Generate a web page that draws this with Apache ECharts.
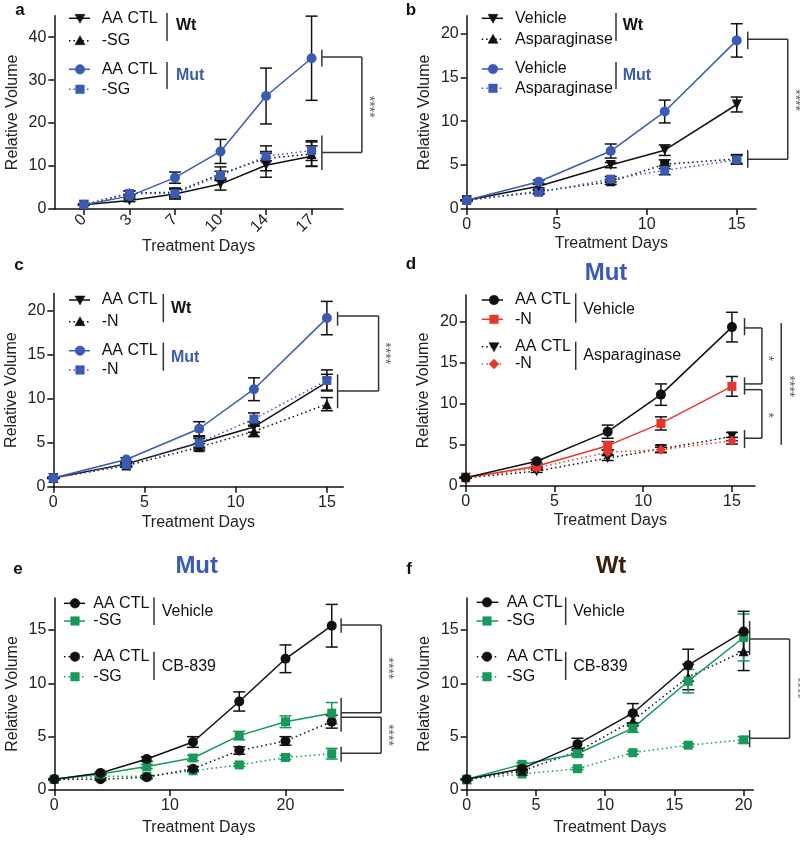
<!DOCTYPE html>
<html><head><meta charset="utf-8">
<script src="https://cdn.jsdelivr.net/npm/echarts@6/dist/echarts.min.js"></script>
<style>html,body{margin:0;padding:0;background:#fff}#c{width:800px;height:841px}</style>
</head><body><div id="c"></div>
<script>
// ================= DATA =================
// Panel a (days shown as evenly spaced ticks)
const aTickLabels = ['0','3','7','10','14','17'];
const aPos = [0,1,2,3,4,5];
const aWtCtl = [1.0, 2.0, 3.5, 5.8, 10.2, 12.3];
const aWtCtlErr = [0.1, 0.3, 1.2, 1.4, 2.8, 2.4];
const aWtSg = [1.0, 3.7, 3.9, 8.2, 11.8, 12.8];
const aWtSgErr = [0.1, 0.5, 1.0, 1.6, 2.9, 2.8];
const aMutCtl = [1.0, 3.0, 7.3, 13.4, 26.3, 35.1];
const aMutCtlErr = [0.1, 0.4, 1.3, 2.8, 6.5, 9.8];
const aMutSg = [1.0, 3.6, 3.6, 7.8, 12.3, 13.6];
const aMutSgErr = [0.1, 0.6, 1.0, 1.0, 1.1, 2.3];
const aLegend = ['AA CTL', '-SG', 'AA CTL', '-SG'];
const aGroups = ['Wt', 'Mut'];

// Panel b
const bDays = [0, 4, 8, 11, 15];
const bWtVeh = [1.0, 2.6, 5.0, 6.7, 11.9];
const bWtVehErr = [0.05, 0.2, 0.3, 0.6, 0.85];
const bWtAsp = [1.0, 2.0, 3.1, 5.1, 5.7];
const bWtAspErr = [0.05, 0.2, 0.3, 0.5, 0.5];
const bMutVeh = [1.0, 3.1, 6.6, 11.1, 19.2];
const bMutVehErr = [0.05, 0.2, 0.8, 1.3, 1.9];
const bMutAsp = [1.0, 1.9, 3.4, 4.4, 5.6];
const bMutAspErr = [0.05, 0.2, 0.3, 0.5, 0.5];
const bLegend = ['Vehicle', 'Asparaginase', 'Vehicle', 'Asparaginase'];
const bGroups = ['Wt', 'Mut'];

// Panel c
const cDays = [0, 4, 8, 11, 15];
const cWtCtl = [1.0, 2.6, 5.0, 6.8, 11.9];
const cWtCtlErr = [0.05, 0.2, 0.7, 0.6, 0.9];
const cWtN = [1.0, 2.4, 4.5, 6.3, 9.4];
const cWtNErr = [0.05, 0.2, 0.4, 0.6, 0.75];
const cMutCtl = [1.0, 3.1, 6.6, 11.1, 19.2];
const cMutCtlErr = [0.05, 0.2, 0.8, 1.3, 1.9];
const cMutN = [1.0, 2.5, 5.0, 7.7, 12.1];
const cMutNErr = [0.05, 0.2, 0.5, 0.7, 1.2];
const cLegend = ['AA CTL', '-N', 'AA CTL', '-N'];
const cGroups = ['Wt', 'Mut'];

// Panel d (Mut)
const dDays = [0, 4, 8, 11, 15];
const dVehCtl = [1.0, 3.0, 6.6, 11.1, 19.3];
const dVehCtlErr = [0.05, 0.2, 0.8, 1.3, 1.8];
const dVehN = [1.0, 2.4, 4.9, 7.6, 12.1];
const dVehNErr = [0.05, 0.2, 0.5, 0.8, 1.2];
const dAspCtl = [1.0, 1.8, 3.4, 4.5, 6.0];
const dAspCtlErr = [0.05, 0.15, 0.3, 0.45, 0.5];
const dAspN = [1.0, 2.2, 4.1, 4.4, 5.5];
const dAspNErr = [0.05, 0.15, 0.3, 0.3, 0.4];
const dLegend = ['AA CTL', '-N', 'AA CTL', '-N'];
const dGroups = ['Vehicle', 'Asparaginase'];

// Panel e (Mut)
const eDays = [0, 4, 8, 12, 16, 20, 24];
const eVehCtl = [1.0, 1.6, 2.9, 4.5, 8.3, 12.3, 15.4];
const eVehCtlErr = [0.05, 0.1, 0.2, 0.5, 0.9, 1.3, 2.0];
const eVehSg = [1.0, 1.5, 2.2, 3.0, 5.1, 6.4, 7.2];
const eVehSgErr = [0.05, 0.1, 0.2, 0.25, 0.4, 0.55, 1.0];
const eCbCtl = [1.0, 1.0, 1.2, 2.0, 3.7, 4.6, 6.4];
const eCbCtlErr = [0.05, 0.1, 0.15, 0.2, 0.35, 0.4, 0.6];
const eCbSg = [1.0, 1.3, 1.3, 1.8, 2.35, 3.05, 3.4];
const eCbSgErr = [0.05, 0.1, 0.1, 0.1, 0.15, 0.2, 0.5];
const eLegend = ['AA CTL', '-SG', 'AA CTL', '-SG'];
const eGroups = ['Vehicle', 'CB-839'];

// Panel f (Wt)
const fDays = [0, 4, 8, 12, 16, 20];
const fVehCtl = [1.0, 2.0, 4.3, 7.2, 11.7, 14.85];
const fVehCtlErr = [0.05, 0.2, 0.55, 0.9, 1.5, 1.9];
const fVehSg = [1.0, 2.4, 3.4, 5.8, 10.2, 14.3];
const fVehSgErr = [0.05, 0.15, 0.3, 0.4, 1.1, 2.2];
const fCbCtl = [1.0, 1.8, 3.6, 6.5, 10.6, 13.0];
const fCbCtlErr = [0.05, 0.15, 0.3, 0.5, 1.2, 1.8];
const fCbSg = [1.0, 1.5, 2.0, 3.5, 4.2, 4.7];
const fCbSgErr = [0.05, 0.1, 0.1, 0.15, 0.15, 0.3];
const fLegend = ['AA CTL', '-SG', 'AA CTL', '-SG'];
const fGroups = ['Vehicle', 'CB-839'];

const panelLetters = ['a','b','c','d','e','f'];
const xTitle = 'Treatment Days';
const yTitle = 'Relative Volume';

// ================= STYLE / LAYOUT =================
const FONT = '"Liberation Sans", Arial, Helvetica, sans-serif';
const BLUE = '#3a5bb4', RED = '#e8362c', GREEN = '#169a5a', BLACK = '#111111', BROWN = '#3a1e0f', GREY = '#333333';
const DOT = [1.5, 3];

function S(xs, ys, err, color, symbol, opts) {
  return Object.assign({xs, ys, err, color, errColor: color, symbol, rot: 0, dotted: false}, opts || {});
}

const panels = [
  { grid: {left: 54.3, top: 15.7, width: 288.7, height: 193.3},
    x: {min: -0.65, max: 5.69, ticks: aPos, labels: aTickLabels, rotate: 45}, y: {max: 45, ticks: [0,10,20,30,40]}, nameGapX: 27,
    series: [
      S(aPos, aWtCtl, aWtCtlErr, BLACK, 'triangle', {rot: 180}),
      S(aPos, aWtSg, aWtSgErr, BLACK, 'triangle', {dotted: true}),
      S(aPos, aMutSg, aMutSgErr, BLUE, 'rect', {dotted: true, errColor: BLACK}),
      S(aPos, aMutCtl, aMutCtlErr, BLUE, 'circle', {errColor: BLACK})
    ],
    legend: {seg: [69, 90], mx: 80, tx: 101.7, ys: [18.3, 40.7, 69.3, 89.3], labels: aLegend,
      sym: [['tridown', BLACK, false], ['triup', BLACK, true], ['circle', BLUE, false], ['rect', BLUE, true]],
      gx: 167, glx: 176, groups: [[13, 41, 25.7, BLACK, true], [62, 89, 76, BLUE, true]], gLabels: aGroups},
    sig: {x: 5, tickDx: 10.3, ticks: [[37.1, 33.2], [17.1, 9.1]], arms: [[35.4, 50.3], [13.15, 50.3]],
      bars: [[35.4, 13.15, 50.3]], stars: [['****', 23.8, 57]]},
    letter: [20, 10]
  },
  { grid: {left: 466.7, top: 15.8, width: 289.3, height: 193.2},
    x: {min: 0, max: 16.07, ticks: [0,5,10,15]}, y: {max: 22, ticks: [0,5,10,15,20]}, nameGapX: 27,
    series: [
      S(bDays, bWtAsp, bWtAspErr, BLACK, 'rect', {dotted: true}),
      S(bDays, bMutAsp, bMutAspErr, BLUE, 'rect', {dotted: true, errColor: BLACK}),
      S(bDays, bWtVeh, bWtVehErr, BLACK, 'triangle', {rot: 180}),
      S(bDays, bMutVeh, bMutVehErr, BLUE, 'circle', {errColor: BLACK})
    ],
    legend: {seg: [481.7, 503], mx: 493, tx: 515, ys: [18.3, 39.3, 69, 88.3], labels: bLegend,
      sym: [['tridown', BLACK, false], ['triup', BLACK, true], ['circle', BLUE, false], ['rect', BLUE, true]],
      gx: 616, glx: 622.7, groups: [[13, 41, 25.7, BLACK, true], [62, 89, 76, BLUE, true]], gLabels: bGroups},
    sig: {x: 15, tickDx: 11, ticks: [[20.2, 18.2], [6.7, 4.7]], arms: [[19.33, 51], [5.66, 51]],
      bars: [[19.33, 5.66, 51]], stars: [['****', 12.4, 58.6]]},
    letter: [411, 10]
  },
  { grid: {left: 53.3, top: 293.5, width: 290, height: 193.2},
    x: {min: 0, max: 15.9, ticks: [0,5,10,15]}, y: {max: 22, ticks: [0,5,10,15,20]}, nameGapX: 28,
    series: [
      S(cDays, cWtN, cWtNErr, BLACK, 'triangle', {dotted: true}),
      S(cDays, cWtCtl, cWtCtlErr, BLACK, 'triangle', {rot: 180}),
      S(cDays, cMutN, cMutNErr, BLUE, 'rect', {dotted: true, errColor: BLACK}),
      S(cDays, cMutCtl, cMutCtlErr, BLUE, 'circle', {errColor: BLACK})
    ],
    legend: {seg: [69, 90], mx: 80, tx: 101.7, ys: [300, 321.7, 350.7, 370], labels: cLegend,
      sym: [['tridown', BLACK, false], ['triup', BLACK, true], ['circle', BLUE, false], ['rect', BLUE, true]],
      gx: 163.3, glx: 171, groups: [[294, 322.3, 309, BLACK, true], [342.7, 370.7, 357.3, BLUE, true]], gLabels: cGroups},
    sig: {x: 15, tickDx: 10.7, ticks: [[19.93, 18.34], [12.8, 8.93]], arms: [[19.44, 51.7], [10.9, 51.7]],
      bars: [[19.44, 10.9, 51.7]], stars: [['****', 15.2, 57.8]]},
    letter: [19, 265]
  },
  { grid: {left: 465.7, top: 295, width: 289.3, height: 191},
    x: {min: 0, max: 16.3, ticks: [0,5,10,15]}, y: {max: 23.2, ticks: [0,5,10,15,20]}, nameGapX: 27,
    series: [
      S(dDays, dAspCtl, dAspCtlErr, BLACK, 'triangle', {rot: 180, dotted: true}),
      S(dDays, dAspN, dAspNErr, RED, 'diamond', {dotted: true, errColor: BLACK}),
      S(dDays, dVehN, dVehNErr, RED, 'rect', {errColor: BLACK}),
      S(dDays, dVehCtl, dVehCtlErr, BLACK, 'circle')
    ],
    legend: {seg: [481.7, 503], mx: 494, tx: 515, ys: [300, 319.3, 346.7, 364], labels: dLegend,
      sym: [['circle', BLACK, false], ['rect', RED, false], ['tridown', BLACK, true], ['diamond', RED, true]],
      gx: 575.7, glx: 583.3, groups: [[293.3, 322.7, 310, BLACK, false], [341.7, 370, 356, BLACK, false]], gLabels: dGroups},
    sig: {x: 15, tickDx: 12.6, ticks: [[20.4, 18.3], [13.2, 11.1], [6.8, 4.6]],
      arms: [[19.2, 30], [12.4, 30], [11.7, 30], [5.8, 30]],
      bars: [[19.2, 12.4, 30], [11.7, 5.8, 30], [19.8, 5.0, 49.3]],
      stars: [['*', 15.5, 35.5], ['*', 8.6, 35.5], ['****', 12.1, 56.5]]},
    title: ['Mut', 606, 273, BLUE],
    letter: [411, 264]
  },
  { grid: {left: 54.3, top: 598, width: 289, height: 192},
    x: {min: 0, max: 25, ticks: [0,10,20]}, y: {max: 18, ticks: [0,5,10,15]}, nameGapX: 30,
    series: [
      S(eDays, eCbSg, eCbSgErr, GREEN, 'rect', {dotted: true}),
      S(eDays, eCbCtl, eCbCtlErr, BLACK, 'circle', {dotted: true}),
      S(eDays, eVehSg, eVehSgErr, GREEN, 'rect'),
      S(eDays, eVehCtl, eVehCtlErr, BLACK, 'circle')
    ],
    legend: {seg: [64, 85], mx: 75, tx: 93.3, ys: [603.3, 621, 656.7, 676.7], labels: eLegend,
      sym: [['circle', BLACK, false], ['rect', GREEN, false], ['circle', BLACK, true], ['rect', GREEN, true]],
      gx: 154, glx: 161.7, groups: [[597.3, 625, 611.7, BLACK, false], [651.7, 680, 666.7, BLACK, false]], gLabels: eGroups},
    sig: {x: 24, tickDx: 9.4, ticks: [[16.1, 14.74], [8.65, 5.46], [4.06, 2.65]],
      arms: [[15.46, 49.4], [7.24, 49.4], [6.81, 49.4], [3.44, 49.4]],
      bars: [[15.46, 7.24, 49.4], [6.81, 3.44, 49.4]], stars: [['****', 11.4, 55.8], ['****', 5.15, 55.8]]},
    title: ['Mut', 196.7, 566.7, BLUE],
    letter: [18, 569]
  },
  { grid: {left: 466.7, top: 598, width: 286.6, height: 192},
    x: {min: 0, max: 20.7, ticks: [0,5,10,15,20]}, y: {max: 18, ticks: [0,5,10,15]}, nameGapX: 30,
    series: [
      S(fDays, fCbSg, fCbSgErr, GREEN, 'rect', {dotted: true}),
      S(fDays, fCbCtl, fCbCtlErr, BLACK, 'triangle', {dotted: true}),
      S(fDays, fVehSg, fVehSgErr, GREEN, 'rect'),
      S(fDays, fVehCtl, fVehCtlErr, BLACK, 'circle')
    ],
    legend: {seg: [476.7, 498.3], mx: 487, tx: 506.7, ys: [602.3, 621, 656.7, 676.7], labels: fLegend,
      sym: [['circle', BLACK, false], ['rect', GREEN, false], ['circle', BLACK, true], ['rect', GREEN, true]],
      gx: 565.7, glx: 573.3, groups: [[597.3, 625, 611.7, BLACK, false], [651.7, 680, 666.7, BLACK, false]], gLabels: fGroups},
    sig: {x: 20, tickDx: 6, ticks: [[15.84, 12.65], [5.62, 4.0]], arms: [[14.15, 46], [4.85, 46]],
      bars: [[14.15, 4.85, 46]], stars: [['****', 9.56, 53.6]]},
    title: ['Wt', 611, 566.7, BROWN],
    letter: [409, 569]
  }
];

// ================= BUILD =================
const grids = [], xAxes = [], yAxes = [], series = [], graphics = [];
const axisLineStyle = {color: BLACK, width: 1.5};

function errRender(color) {
  return function (params, api) {
    const x = api.value(0), lo = api.value(1), hi = api.value(2);
    const a = api.coord([x, lo]), b = api.coord([x, hi]);
    const w = 6, st = {stroke: color, lineWidth: 1.5};
    return {type: 'group', children: [
      {type: 'line', shape: {x1: a[0], y1: a[1], x2: b[0], y2: b[1]}, style: st},
      {type: 'line', shape: {x1: a[0] - w, y1: a[1], x2: a[0] + w, y2: a[1]}, style: st},
      {type: 'line', shape: {x1: b[0] - w, y1: b[1], x2: b[0] + w, y2: b[1]}, style: st}
    ]};
  };
}

function sigRender(sig) {
  return function (params, api) {
    const px = api.coord([sig.x, 0])[0];
    const Y = v => api.coord([sig.x, v])[1];
    const st = {stroke: GREY, lineWidth: 1.5};
    const ch = [];
    const tx = px + sig.tickDx;
    sig.ticks.forEach(t => ch.push({type: 'line', shape: {x1: tx, y1: Y(t[0]), x2: tx, y2: Y(t[1])}, style: st}));
    sig.arms.forEach(a => ch.push({type: 'line', shape: {x1: tx, y1: Y(a[0]), x2: px + a[1], y2: Y(a[0])}, style: st}));
    sig.bars.forEach(b => ch.push({type: 'line', shape: {x1: px + b[2], y1: Y(b[0]), x2: px + b[2], y2: Y(b[1])}, style: st}));
    sig.stars.forEach(s => ch.push({type: 'text', x: px + s[2], y: Y(s[1]), rotation: -Math.PI / 2,
      style: {text: s[0], fill: '#666', font: '14px ' + FONT, align: 'center', verticalAlign: 'middle'}}));
    return {type: 'group', children: ch};
  };
}

function symShape(kind, cx, cy, color) {
  const st = {fill: color, stroke: color, lineWidth: 0.5};
  if (kind === 'circle') return {type: 'circle', shape: {cx, cy, r: 4.8}, style: st};
  if (kind === 'rect') return {type: 'rect', shape: {x: cx - 4.3, y: cy - 4.3, width: 8.6, height: 8.6}, style: st};
  if (kind === 'triup') return {type: 'polygon', shape: {points: [[cx, cy - 5], [cx + 5, cy + 4], [cx - 5, cy + 4]]}, style: st};
  if (kind === 'tridown') return {type: 'polygon', shape: {points: [[cx, cy + 5], [cx + 5, cy - 4], [cx - 5, cy - 4]]}, style: st};
  return {type: 'polygon', shape: {points: [[cx, cy - 5], [cx + 5, cy], [cx, cy + 5], [cx - 5, cy]]}, style: st};
}

panels.forEach((p, i) => {
  grids.push(Object.assign({containLabel: false, outerBoundsMode: 'none'}, p.grid));
  const xl = p.x.labels;
  xAxes.push({
    gridIndex: i, type: 'value', min: p.x.min, max: p.x.max,
    axisLine: {show: true, onZero: false, lineStyle: axisLineStyle},
    axisTick: {show: true, length: 6, lineStyle: axisLineStyle, customValues: p.x.ticks},
    axisLabel: {customValues: p.x.ticks, fontSize: 16, color: '#222', fontFamily: FONT, margin: 8, rotate: p.x.rotate || 0,
      formatter: v => xl ? xl[Math.round(v)] : String(v)},
    splitLine: {show: false},
    name: xTitle, nameLocation: 'middle', nameGap: p.nameGapX,
    nameTextStyle: {fontSize: 16, color: '#222', fontFamily: FONT}
  });
  yAxes.push({
    gridIndex: i, type: 'value', min: 0, max: p.y.max,
    axisLine: {show: true, onZero: false, lineStyle: axisLineStyle},
    axisTick: {show: true, length: 6, lineStyle: axisLineStyle, customValues: p.y.ticks},
    axisLabel: {customValues: p.y.ticks, fontSize: 16, color: '#222', fontFamily: FONT, margin: 8},
    splitLine: {show: false},
    name: yTitle, nameLocation: 'middle', nameGap: 34,
    nameTextStyle: {fontSize: 16, color: '#222', fontFamily: FONT}
  });
  p.series.forEach(s => {
    series.push({
      type: 'custom', xAxisIndex: i, yAxisIndex: i, z: 1, silent: true,
      renderItem: errRender(s.errColor), encode: {x: 0, y: [1, 2]},
      data: s.xs.map((x, k) => [x, s.ys[k] - s.err[k], s.ys[k] + s.err[k]])
    });
  });
  p.series.forEach(s => {
    series.push({
      type: 'line', xAxisIndex: i, yAxisIndex: i, z: 3, silent: true, animation: false,
      data: s.xs.map((x, k) => [x, s.ys[k]]),
      symbol: s.symbol, symbolRotate: s.rot, symbolSize: s.symbol === 'circle' ? 10 : (s.symbol === 'rect' ? 9 : 10),
      itemStyle: {color: s.color},
      lineStyle: {color: s.color, width: 1.5, type: s.dotted ? DOT : 'solid'}
    });
  });
  series.push({type: 'custom', xAxisIndex: i, yAxisIndex: i, z: 2, silent: true,
    renderItem: sigRender(p.sig), encode: {x: 0, y: 1}, data: [[p.sig.x, 0]]});

  // legend
  const L = p.legend;
  L.ys.forEach((y, k) => {
    const [kind, color, dotted] = L.sym[k];
    graphics.push({type: 'line', shape: {x1: L.seg[0], y1: y, x2: L.seg[1], y2: y},
      style: {stroke: color, lineWidth: 1.5, lineDash: dotted ? DOT : null}});
    graphics.push(symShape(kind, L.mx, y, color));
    graphics.push({type: 'text', x: L.tx, y: y, style: {text: L.labels[k], fill: '#111', font: '16px ' + FONT, verticalAlign: 'middle'}});
  });
  L.groups.forEach((g, k) => {
    graphics.push({type: 'line', shape: {x1: L.gx, y1: g[0], x2: L.gx, y2: g[1]}, style: {stroke: GREY, lineWidth: 1.5}});
    graphics.push({type: 'text', x: L.glx, y: g[2], style: {text: L.gLabels[k], fill: g[3],
      font: (g[4] ? 'bold ' : '') + '16px ' + FONT, verticalAlign: 'middle'}});
  });
  if (p.title) {
    graphics.push({type: 'text', x: p.title[1], y: p.title[2], style: {text: p.title[0], fill: p.title[3],
      font: 'bold 24px ' + FONT, align: 'center', verticalAlign: 'middle'}});
  }
  graphics.push({type: 'text', x: p.letter[0], y: p.letter[1], style: {text: panelLetters[i], fill: '#111',
    font: 'bold 17px ' + FONT, align: 'center', verticalAlign: 'middle'}});
});

const chart = echarts.init(document.getElementById('c'), null, {renderer: 'canvas'});
chart.setOption({
  backgroundColor: '#ffffff', animation: false,
  textStyle: {fontFamily: FONT},
  grid: grids, xAxis: xAxes, yAxis: yAxes, series: series, graphic: graphics
});
</script></body></html>
